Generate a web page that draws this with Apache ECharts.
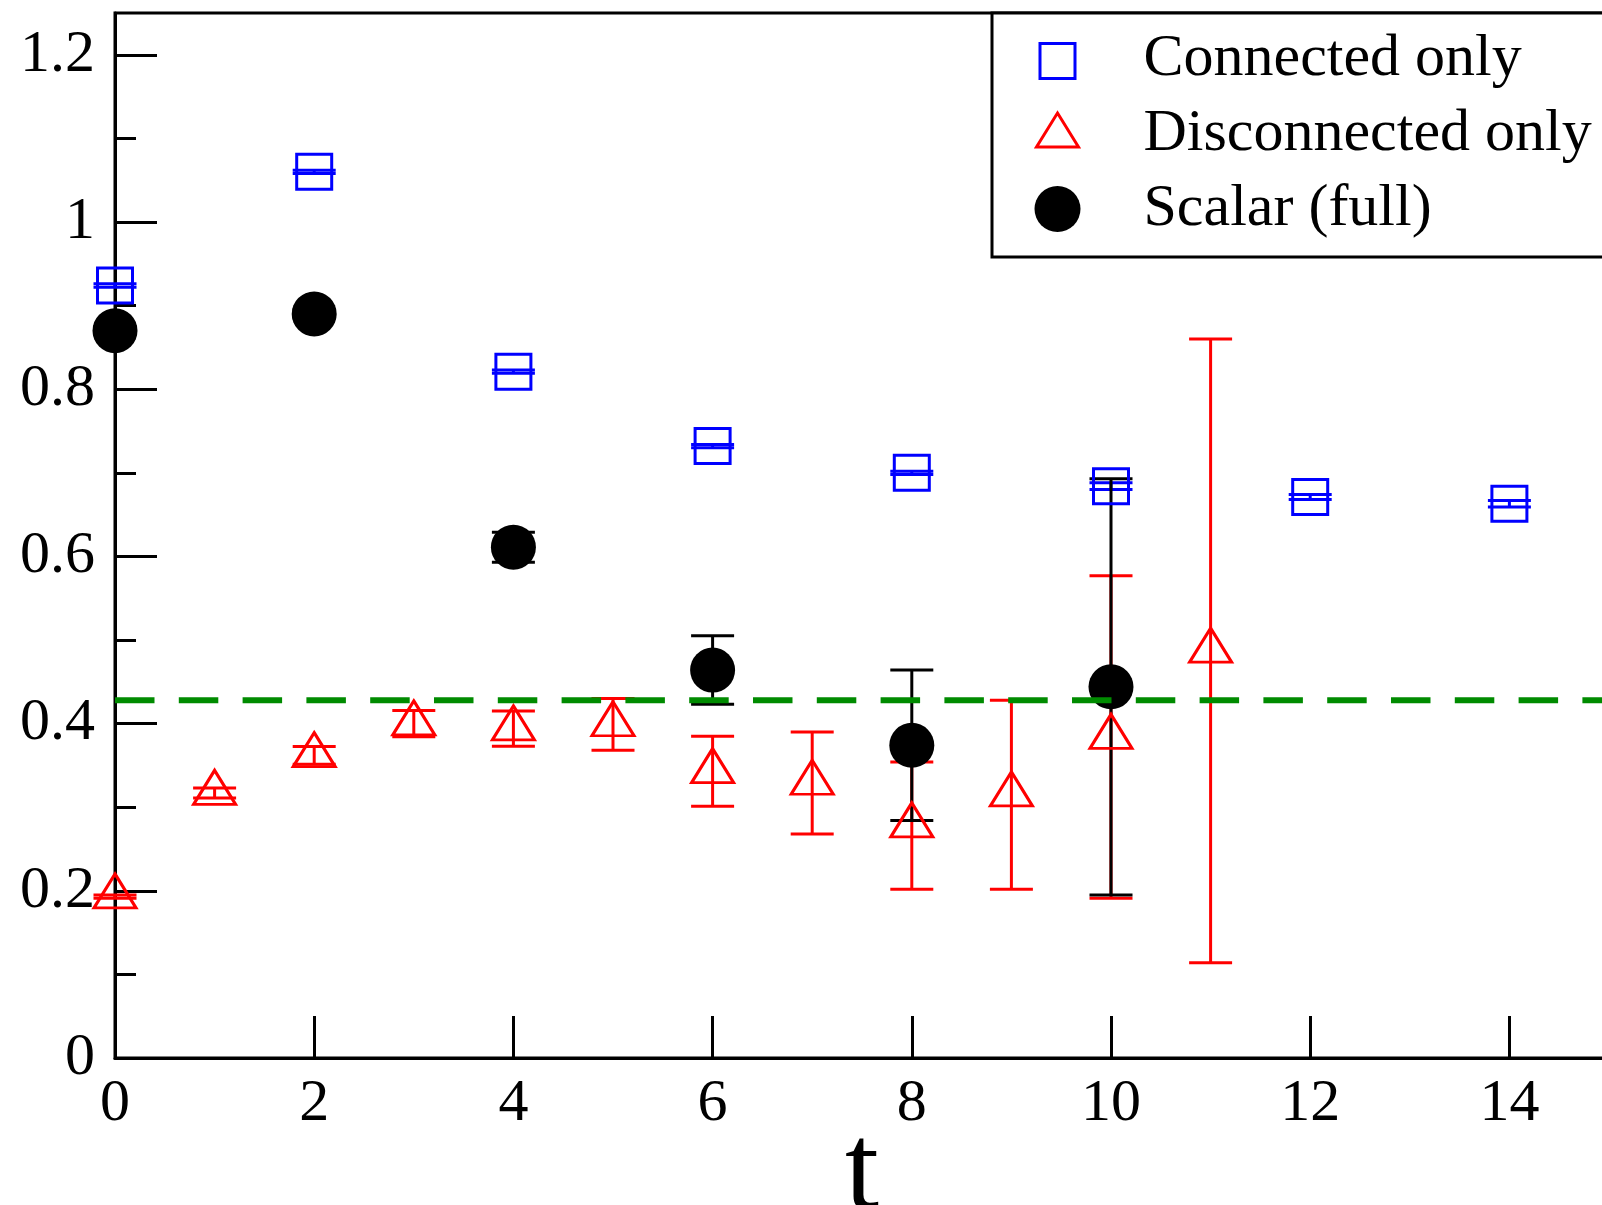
<!DOCTYPE html>
<html>
<head>
<meta charset="utf-8">
<script src="https://cdn.jsdelivr.net/npm/echarts@6/dist/echarts.min.js"></script>
<style>
html,body{margin:0;padding:0;background:#fff;}
#c{width:1602px;height:1205px;}
</style>
</head>
<body>
<div id="c"></div>
<script>
// ---- data ----
const connT   = [0, 2, 4, 6, 8, 10, 12, 14];
const connVal = [0.924, 1.060, 0.821, 0.732, 0.700, 0.684, 0.671, 0.663];
const connErr = [0.002, 0.002, 0.002, 0.002, 0.002, 0.004, 0.003, 0.004];

const discT   = [0, 1, 2, 3, 4, 5, 6, 7, 8, 9, 10, 11];
const discVal = [0.193, 0.317, 0.362, 0.400, 0.394, 0.399, 0.343, 0.329, 0.278, 0.315, 0.384, 0.487];
const discErr = [0.002, 0.006, 0.0105, 0.0157, 0.021, 0.031, 0.042, 0.061, 0.076, 0.113, 0.193, 0.373];

const scalT   = [0, 2, 4, 6, 8, 10];
const scalVal = [0.870, 0.890, 0.611, 0.464, 0.374, 0.444];
const scalErr = [0.005, 0.005, 0.018, 0.041, 0.090, 0.249];

const refLevel = 0.428;
const refRange = [0, 15];

const seriesNames = ['Connected only', 'Disconnected only', 'Scalar (full)'];
const xTicks = [0, 2, 4, 6, 8, 10, 12, 14];
const xTickLabels = ['0', '2', '4', '6', '8', '10', '12', '14'];
const yMajor = [0, 0.2, 0.4, 0.6, 0.8, 1.0, 1.2];
const yTickLabels = ['0', '0.2', '0.4', '0.6', '0.8', '1', '1.2'];
const yMinor = [0.1, 0.3, 0.5, 0.7, 0.9, 1.1];
const xName = 't';

// ---- rendering ----
const SERIF = "'Liberation Serif', 'DejaVu Serif', serif";
const BLUE = '#0000ff', RED = '#ff0000', BLACK = '#000000', GREEN = '#008b00';

function pack(t, v, e) { return t.map((x, i) => [x, v[i], e[i]]); }

function errRender(color, capW) {
  return function (params, api) {
    const x = api.value(0), y = api.value(1), e = api.value(2);
    const a = api.coord([x, y + e]);
    const b = api.coord([x, y - e]);
    const st = { stroke: color, lineWidth: 3, fill: null, lineCap: 'butt', opacity: 1 };
    return {
      type: 'group',
      children: [
        { type: 'line', shape: { x1: a[0], y1: a[1], x2: b[0], y2: b[1] }, style: st },
        { type: 'line', shape: { x1: a[0] - capW / 2, y1: a[1], x2: a[0] + capW / 2, y2: a[1] }, style: st },
        { type: 'line', shape: { x1: b[0] - capW / 2, y1: b[1], x2: b[0] + capW / 2, y2: b[1] }, style: st }
      ]
    };
  };
}

function errSeries(name, data, color) {
  return {
    name: name, type: 'custom', data: data,
    encode: { x: 0, y: 1 },
    renderItem: errRender(color, 43),
    silent: true, clip: false
  };
}

const hollow = (c) => ({ color: 'rgba(0,0,0,0)', borderColor: c, borderWidth: 3, borderJoin: 'miter', opacity: 1 });

const chart = echarts.init(document.getElementById('c'), null, { renderer: 'canvas' });

const option = {
  animation: false,
  backgroundColor: '#ffffff',
  grid: {
    left: 115, top: 13, right: -7, bottom: 147,
    show: true, borderColor: '#000', borderWidth: 3,
    containLabel: false, outerBoundsMode: 'none'
  },
  legend: {
    orient: 'vertical',
    left: 992, top: 13,
    padding: [16, 30, 18, 40],
    itemWidth: 48, itemHeight: 46, itemGap: 15,
    borderColor: '#000', borderWidth: 3, backgroundColor: '#fff',
    borderRadius: 0,
    selectedMode: false,
    textStyle: { fontFamily: SERIF, fontSize: 60, color: '#000', lineHeight: 60, padding: [0, 0, 0, 57] },
    data: [
      { name: seriesNames[0], icon: 'path://M0,0M48,46M6.5,7.5h35v35h-35z',
        itemStyle: { color: 'rgba(0,0,0,0)', borderColor: BLUE, borderWidth: 3, opacity: 1 } },
      { name: seriesNames[1], icon: 'path://M0,0M48,46M24,2L45,36L3,36Z',
        itemStyle: { color: 'rgba(0,0,0,0)', borderColor: RED, borderWidth: 3, borderJoin: 'miter', opacity: 1 } },
      { name: seriesNames[2], icon: 'circle',
        itemStyle: { color: BLACK, borderWidth: 0, opacity: 1 } }
    ]
  },
  xAxis: {
    type: 'value', min: refRange[0], max: refRange[1],
    name: xName, nameLocation: 'middle', nameGap: 57, nameMoveOverlap: false,
    nameTextStyle: { fontFamily: SERIF, fontSize: 122, color: '#000' },
    axisLine: { show: true, onZero: false, lineStyle: { color: '#000', width: 3 } },
    axisTick: { show: true, inside: true, length: 42, customValues: xTicks, lineStyle: { color: '#000', width: 3 } },
    axisLabel: {
      show: true, customValues: xTicks, margin: 16,
      fontFamily: SERIF, fontSize: 60, color: '#000',
      formatter: (v) => { const i = xTicks.indexOf(v); return i >= 0 ? xTickLabels[i] : ''; }
    },
    splitLine: { show: false }
  },
  yAxis: [
    {
      type: 'value', min: 0, max: 1.25, position: 'left', offset: 0,
      axisLine: { show: true, onZero: false, lineStyle: { color: '#000', width: 3 } },
      axisTick: { show: true, inside: true, length: 42, customValues: yMajor, lineStyle: { color: '#000', width: 3 } },
      axisLabel: {
        show: true, customValues: yMajor, margin: 20,
        fontFamily: SERIF, fontSize: 60, color: '#000',
        formatter: (v) => {
          let best = 0;
          for (let i = 0; i < yMajor.length; i++) if (Math.abs(yMajor[i] - v) < Math.abs(yMajor[best] - v)) best = i;
          return yTickLabels[best];
        }
      },
      splitLine: { show: false }
    },
    {
      type: 'value', min: 0, max: 1.25, position: 'left', offset: 0,
      axisLine: { show: false },
      axisTick: { show: true, inside: true, length: 21, customValues: yMinor, lineStyle: { color: '#000', width: 3 } },
      axisLabel: { show: false },
      splitLine: { show: false }
    }
  ],
  series: [
    errSeries('conn-err', pack(connT, connVal, connErr), BLUE),
    {
      name: seriesNames[0], type: 'scatter', data: connT.map((t, i) => [t, connVal[i]]),
      symbol: 'rect', symbolSize: 35, itemStyle: hollow(BLUE),
      clip: false, silent: true, emphasis: { disabled: true }
    },
    errSeries('disc-err', pack(discT, discVal, discErr), RED),
    {
      name: seriesNames[1], type: 'scatter', data: discT.map((t, i) => [t, discVal[i]]),
      symbol: 'triangle', symbolSize: [42, 34], symbolOffset: [0, -5.7], itemStyle: hollow(RED),
      clip: false, silent: true, emphasis: { disabled: true }
    },
    errSeries('scal-err', pack(scalT, scalVal, scalErr), BLACK),
    {
      name: seriesNames[2], type: 'scatter', data: scalT.map((t, i) => [t, scalVal[i]]),
      symbol: 'circle', symbolSize: 45, itemStyle: { color: BLACK, opacity: 1 },
      clip: false, silent: true, emphasis: { disabled: true }
    },
    {
      name: 'ref', type: 'line', data: refRange.map((t) => [t, refLevel]),
      symbol: 'none', silent: true, clip: false,
      lineStyle: { color: GREEN, width: 6, type: [39.5, 24.3], cap: 'butt', opacity: 1 },
      emphasis: { disabled: true }
    }
  ]
};

chart.setOption(option);
</script>
</body>
</html>
